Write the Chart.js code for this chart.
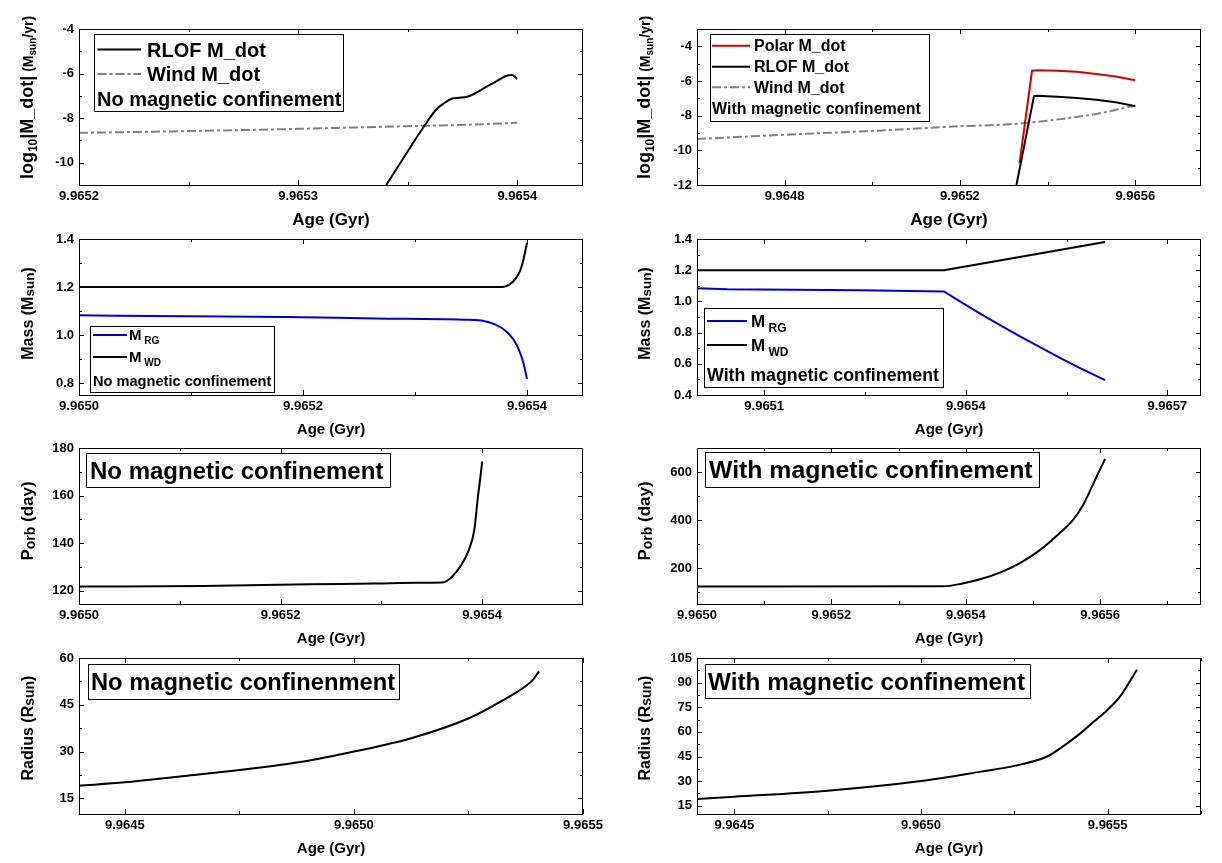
<!DOCTYPE html>
<html>
<head>
<meta charset="utf-8">
<script src="https://cdn.jsdelivr.net/npm/chart.js@4.4.1/dist/chart.umd.min.js"></script>
<style>
  html, body { margin: 0; padding: 0; background: #fff; }
  #page { position: relative; width: 1222px; height: 863px; overflow: hidden; }
  .panel { position: absolute; width: 611px; height: 234px; }
</style>
</head>
<body>
<div id="page"></div>
<script>
// ---- data (age in Gyr) ----

// row 1: mass transfer rates, log10 |M_dot| (Msun/yr)
const ageRlofNoMag = [9.9653402, 9.9653496, 9.9653591, 9.9653630, 9.9653669, 9.9653701, 9.9653732, 9.9653772, 9.9653811, 9.9653858, 9.9653906, 9.9653945, 9.9653976, 9.9654];
const logRlofNoMag = [-11.0, -9.55, -8.13, -7.61, -7.31, -7.13, -7.09, -7.04, -6.87, -6.60, -6.34, -6.12, -6.06, -6.24];
const ageWindNoMag = [9.9652, 9.9652504, 9.9653005, 9.9653496, 9.9653764, 9.9654];
const logWindNoMag = [-8.66, -8.58, -8.48, -8.36, -8.30, -8.21];

const agePolarMag = [9.965336, 9.9653644, 9.9653778, 9.9654222, 9.9654667, 9.9655111, 9.9655556, 9.9656];
const logPolarMag = [-10.74, -5.41, -5.38, -5.41, -5.47, -5.59, -5.74, -5.96];
const ageRlofMag = [9.9653289, 9.9653689, 9.9653778, 9.9654222, 9.9654667, 9.9655111, 9.9655556, 9.9656];
const logRlofMag = [-12.0, -6.87, -6.85, -6.91, -6.98, -7.08, -7.22, -7.45];
const ageWindMag = [9.9646, 9.9648, 9.9650222, 9.9652, 9.9652889, 9.9653422, 9.9654222, 9.9655111, 9.9656];
const logWindMag = [-9.35, -9.10, -8.85, -8.61, -8.53, -8.44, -8.22, -7.90, -7.41];

// row 2: masses (Msun)
const ageRgNoMag = [9.965, 9.965098, 9.965184, 9.965264, 9.9653433, 9.9653592, 9.965372, 9.9653815, 9.9653879, 9.9653927, 9.9653968, 9.9654];
const massRgNoMag = [1.082, 1.078, 1.075, 1.069, 1.064, 1.060, 1.043, 1.015, 0.981, 0.939, 0.883, 0.817];
const ageWdNoMag = [9.965, 9.9653783, 9.9653847, 9.9653895, 9.9653936, 9.9653968, 9.9654];
const massWdNoMag = [1.2, 1.2, 1.211, 1.233, 1.265, 1.314, 1.383];

const ageRgMag = [9.965, 9.9650453, 9.9652426, 9.9653675, 9.9653936, 9.9654226, 9.9654516, 9.9654806, 9.9655097, 9.9655387, 9.9655677, 9.9656072];
const massRgMag = [1.085, 1.078, 1.072, 1.064, 0.994, 0.919, 0.847, 0.776, 0.708, 0.641, 0.577, 0.495];
const ageWdMag = [9.965, 9.9653675, 9.9654865, 9.9656072];
const massWdMag = [1.2, 1.2, 1.29, 1.381];

// row 3: orbital period (day)
const agePorbNoMag = [9.965, 9.9651232, 9.9652294, 9.9652931, 9.9653356, 9.9653604, 9.9653674, 9.9653745, 9.9653816, 9.9653869, 9.9653922, 9.9653958, 9.9653979, 9.9654];
const porbNoMag = [121.8, 122.1, 122.8, 123.1, 123.4, 123.5, 124.9, 128.1, 132.6, 137.3, 145.7, 159.7, 166.7, 174.4];
const agePorbMag = [9.965, 9.9653675, 9.9653936, 9.9654226, 9.9654516, 9.9654806, 9.9655097, 9.9655387, 9.965559, 9.9655735, 9.965588, 9.9655996, 9.9656072];
const porbMag = [122.5, 123.6, 134.7, 154.2, 182.0, 220.8, 273.6, 343.0, 398.6, 457.0, 540.0, 609.7, 654.0];

// row 4: radius (Rsun)
const ageRadNoMag = [9.9644, 9.9645, 9.964616, 9.96475, 9.96489, 9.965, 9.965125, 9.965251, 9.965321, 9.965376, 9.965392, 9.965404];
const radNoMag = [19.07, 20.14, 21.96, 24.1, 26.8, 30.0, 34.3, 40.7, 46.1, 51.1, 53.25, 55.7];
const ageRadMag = [9.9644, 9.9645, 9.9647497, 9.9650005, 9.9651604, 9.9652503, 9.965338, 9.9653798, 9.9654216, 9.9654634, 9.9655, 9.9655366, 9.9655784];
const radMag = [19.1, 20.5, 24.2, 30.1, 35.8, 39.3, 45.0, 51.1, 58.2, 66.3, 73.5, 82.6, 97.9];

// ---- tick values ----
const x1Major = [9.9652, 9.9653, 9.9654], x1Minor = [9.96525, 9.96535];
const y1Major = [-4, -6, -8, -10], y1Minor = [-5, -7, -9, -11];
const x2Major = [9.9648, 9.9652, 9.9656], x2Minor = [9.9646, 9.965, 9.9654];
const y2Major = [-4, -6, -8, -10, -12], y2Minor = [-3, -5, -7, -9, -11];
const x3Major = [9.965, 9.9652, 9.9654], x3Minor = [9.9651, 9.9653];
const y3Major = [0.8, 1.0, 1.2, 1.4], y3Minor = [0.9, 1.1, 1.3];
const x4Major = [9.9651, 9.9654, 9.9657], x4Minor = [9.96525, 9.96555];
const y4Major = [0.4, 0.6, 0.8, 1.0, 1.2, 1.4], y4Minor = [0.5, 0.7, 0.9, 1.1, 1.3];
const x5Major = [9.965, 9.9652, 9.9654], x5Minor = [9.9651, 9.9653];
const y5Major = [120, 140, 160, 180], y5Minor = [130, 150, 170];
const x6Major = [9.965, 9.9652, 9.9654, 9.9656], x6Minor = [9.9651, 9.9653, 9.9655, 9.9657];
const y6Major = [200, 400, 600], y6Minor = [100, 300, 500, 700];
const x7Major = [9.9645, 9.965, 9.9655], x7Minor = [9.96475, 9.96525];
const y7Major = [15, 30, 45, 60], y7Minor = [22.5, 37.5, 52.5];
const x8Major = [9.9645, 9.965, 9.9655], x8Minor = [9.96475, 9.96525, 9.96575];
const y8Major = [15, 30, 45, 60, 75, 90, 105], y8Minor = [22.5, 37.5, 52.5, 67.5, 82.5, 97.5];

// ---- look ----
const FONT = '"Liberation Sans", Arial, Helvetica, sans-serif';
const BLACK = '#000000', GRAY = '#808080', BLUE = '#0000cc', RED = '#d40000';
const WIND_DASH = [9, 3, 3, 3];

const COL_LEFT = [0, 611];
const ROW_TOP = [0, 210, 419, 629];
const AREA_LEFT = [79, 86];
const AREA_RIGHT = [583, 590];
const TITLE_X = [27, 33];

function series(ages, vals) {
  return ages.map((a, i) => ({ x: a, y: vals[i] }));
}

// smooth: monotone curve; otherwise straight segments (keeps the sharp kinks)
function lineSet(ages, vals, color, dash, smooth = true) {
  const set = {
    data: series(ages, vals),
    borderColor: color,
    borderWidth: 2,
    borderDash: dash || [],
    pointRadius: 0,
    showLine: true,
    fill: false,
    tension: 0
  };
  if (smooth) set.cubicInterpolationMode = 'monotone';
  return set;
}

const fmt1 = v => v.toFixed(1);
const fmtInt = v => String(v);

const massTitle = [['Mass (M', 16, 0], ['sun', 13.5, 1.5], [')', 16, 0]];
const porbTitle = [['P', 17, 0], ['orb', 14, 2], [' (day)', 17, 0]];
const radTitle = [['Radius (R', 16, 0], ['sun', 14, 1.5], [')', 16, 0]];
const mdotTitle = [['log', 18, 0], ['10', 12, 4], ['|M_dot|', 18, 0], [' (M', 14, 0], ['sun', 10, 3], ['/yr)', 14, 0]];

const panels = [
  { col: 0, row: 0, xMin: 9.9652, xMax: 9.96543, yMin: -11, yMax: -4,
    xMajor: x1Major, xMinor: x1Minor, yMajor: y1Major, yMinor: y1Minor, yFmt: fmtInt,
    sets: [lineSet(ageRlofNoMag, logRlofNoMag, BLACK), lineSet(ageWindNoMag, logWindNoMag, GRAY, WIND_DASH)],
    yTitle: mdotTitle, yTitleY: 97.5, xTitleSize: 17,
    legend: { box: [94, 34, 343, 111], items: [
      { y: 49.5, line: { x1: 97.5, x2: 141, color: BLACK }, tx: 147, parts: [['RLOF M_dot', 20, 0]] },
      { y: 74, line: { x1: 97.5, x2: 141, color: GRAY, dash: WIND_DASH }, tx: 147, parts: [['Wind M_dot', 20, 0]] },
      { y: 99, tx: 97, parts: [['No magnetic confinement', 20, 0]] }
    ] } },
  { col: 1, row: 0, xMin: 9.9646, xMax: 9.96575, yMin: -12, yMax: -3,
    xMajor: x2Major, xMinor: x2Minor, yMajor: y2Major, yMinor: y2Minor, yFmt: fmtInt,
    sets: [lineSet(ageRlofMag, logRlofMag, BLACK, null, false), lineSet(agePolarMag, logPolarMag, RED, null, false),
           lineSet(ageWindMag, logWindMag, GRAY, WIND_DASH)],
    yTitle: mdotTitle, yTitleY: 97.5, xTitleSize: 17,
    legend: { box: [710, 34, 929, 121], items: [
      { y: 45.7, line: { x1: 712, x2: 750, color: RED }, tx: 754, parts: [['Polar M_dot', 16, 0]] },
      { y: 66.7, line: { x1: 712, x2: 750, color: BLACK }, tx: 754, parts: [['RLOF M_dot', 16, 0]] },
      { y: 87.3, line: { x1: 712, x2: 750, color: GRAY, dash: WIND_DASH }, tx: 754, parts: [['Wind M_dot', 16, 0]] },
      { y: 108.3, tx: 712, parts: [['With magnetic confinement', 16, 0]] }
    ] } },
  { col: 0, row: 1, xMin: 9.965, xMax: 9.96545, yMin: 0.75, yMax: 1.4,
    xMajor: x3Major, xMinor: x3Minor, yMajor: y3Major, yMinor: y3Minor, yFmt: fmt1,
    sets: [lineSet(ageWdNoMag, massWdNoMag, BLACK), lineSet(ageRgNoMag, massRgNoMag, BLUE)],
    yTitle: massTitle, yTitleY: 103.5, xTitleSize: 15,
    legend: { box: [90, 326, 274, 392], items: [
      { y: 335, line: { x1: 93, x2: 127, color: BLUE }, tx: 129, parts: [['M', 15, 0], [' RG', 10, 4]] },
      { y: 357, line: { x1: 93, x2: 127, color: BLACK }, tx: 129, parts: [['M', 15, 0], [' WD', 10, 4]] },
      { y: 381, tx: 93, parts: [['No magnetic confinement', 14.6, 0]] }
    ] } },
  { col: 1, row: 1, xMin: 9.965, xMax: 9.96575, yMin: 0.4, yMax: 1.4,
    xMajor: x4Major, xMinor: x4Minor, yMajor: y4Major, yMinor: y4Minor, yFmt: fmt1,
    sets: [lineSet(ageWdMag, massWdMag, BLACK, null, false), lineSet(ageRgMag, massRgMag, BLUE, null, false)],
    yTitle: massTitle, yTitleY: 103.5, xTitleSize: 15,
    legend: { box: [704, 308, 943, 387], items: [
      { y: 321, line: { x1: 707, x2: 747, color: BLUE }, tx: 751, parts: [['M', 17, 0], [' RG', 12, 5]] },
      { y: 345, line: { x1: 707, x2: 747, color: BLACK }, tx: 751, parts: [['M', 17, 0], [' WD', 12, 5]] },
      { y: 375, tx: 707, parts: [['With magnetic confinement', 17.8, 0]] }
    ] } },
  { col: 0, row: 2, xMin: 9.965, xMax: 9.9655, yMin: 114.5, yMax: 180,
    xMajor: x5Major, xMinor: x5Minor, yMajor: y5Major, yMinor: y5Minor, yFmt: fmtInt,
    sets: [lineSet(agePorbNoMag, porbNoMag, BLACK)],
    yTitle: porbTitle, yTitleY: 102, xTitleSize: 15,
    legend: { box: [86, 453, 390, 487], items: [
      { y: 470, tx: 90, parts: [['No magnetic confinement', 24, 0]] }
    ] } },
  { col: 1, row: 2, xMin: 9.965, xMax: 9.96575, yMin: 50, yMax: 700,
    xMajor: x6Major, xMinor: x6Minor, yMajor: y6Major, yMinor: y6Minor, yFmt: fmtInt,
    sets: [lineSet(agePorbMag, porbMag, BLACK)],
    yTitle: porbTitle, yTitleY: 102, xTitleSize: 15,
    legend: { box: [705, 452, 1039, 487], items: [
      { y: 469.5, tx: 709, parts: [['With magnetic confinement', 24.8, 0]] }
    ] } },
  { col: 0, row: 3, xMin: 9.9644, xMax: 9.9655, yMin: 10, yMax: 60,
    xMajor: x7Major, xMinor: x7Minor, yMajor: y7Major, yMinor: y7Minor, yFmt: fmtInt,
    sets: [lineSet(ageRadNoMag, radNoMag, BLACK)],
    yTitle: radTitle, yTitleY: 99, xTitleSize: 15,
    legend: { box: [87.5, 664, 398, 699], items: [
      { y: 681.5, tx: 91, parts: [['No magnetic confinenment', 23.7, 0]] }
    ] } },
  { col: 1, row: 3, xMin: 9.9644, xMax: 9.96575, yMin: 10, yMax: 105,
    xMajor: x8Major, xMinor: x8Minor, yMajor: y8Major, yMinor: y8Minor, yFmt: fmtInt,
    sets: [lineSet(ageRadMag, radMag, BLACK)],
    yTitle: radTitle, yTitleY: 99, xTitleSize: 15,
    legend: { box: [705, 664, 1030, 698], items: [
      { y: 681, tx: 708, parts: [['With magnetic confinement', 24.3, 0]] }
    ] } }
];

// draws a run of text pieces of mixed size; y is the baseline
function drawParts(ctx, parts, x, y, align) {
  let w = 0;
  parts.forEach(p => { ctx.font = 'bold ' + p[1] + 'px ' + FONT; w += ctx.measureText(p[0]).width; });
  let cx = align === 'center' ? x - w / 2 : x;
  ctx.textAlign = 'left';
  ctx.textBaseline = 'alphabetic';
  parts.forEach(p => {
    ctx.font = 'bold ' + p[1] + 'px ' + FONT;
    ctx.fillText(p[0], cx, y + (p[2] || 0));
    cx += ctx.measureText(p[0]).width;
  });
}

// frame, inward ticks on four sides, axis titles and the boxed legends
function decor(p) {
  const ox = COL_LEFT[p.col], oy = ROW_TOP[p.row];
  return {
    id: 'decor',
    afterDraw(chart) {
      const { ctx, chartArea: a, scales: { x, y } } = chart;
      ctx.save();
      ctx.strokeStyle = BLACK;
      ctx.lineWidth = 1;
      ctx.beginPath();
      const vt = (v, len) => {
        const px = Math.round(x.getPixelForValue(v)) + 0.5;
        ctx.moveTo(px, a.bottom); ctx.lineTo(px, a.bottom - len);
        ctx.moveTo(px, a.top); ctx.lineTo(px, a.top + len);
      };
      const ht = (v, len) => {
        const py = Math.round(y.getPixelForValue(v)) + 0.5;
        ctx.moveTo(a.left, py); ctx.lineTo(a.left + len, py);
        ctx.moveTo(a.right, py); ctx.lineTo(a.right - len, py);
      };
      p.xMajor.forEach(v => vt(v, 5));
      p.xMinor.forEach(v => vt(v, 3));
      p.yMajor.forEach(v => ht(v, 5));
      p.yMinor.forEach(v => ht(v, 3));
      ctx.stroke();
      ctx.strokeRect(a.left + 0.5, a.top + 0.5, a.right - a.left - 1, a.bottom - a.top);

      ctx.fillStyle = BLACK;
      // x title
      drawParts(ctx, [['Age (Gyr)', p.xTitleSize, 0]], (a.left + a.right) / 2, 219.5 + 0.3 * p.xTitleSize, 'center');
      // y title
      ctx.save();
      ctx.translate(TITLE_X[p.col], p.yTitleY);
      ctx.rotate(-Math.PI / 2);
      drawParts(ctx, p.yTitle, 0, 0.36 * p.yTitle[0][1], 'center');
      ctx.restore();

      // legend box
      const L = p.legend;
      const b = L.box;
      ctx.fillStyle = '#ffffff';
      ctx.fillRect(b[0] - ox, b[1] - oy, b[2] - b[0], b[3] - b[1]);
      ctx.strokeStyle = BLACK;
      ctx.lineWidth = 1;
      ctx.strokeRect(Math.round(b[0] - ox) + 0.5, Math.round(b[1] - oy) + 0.5, Math.round(b[2] - b[0]), Math.round(b[3] - b[1]));
      L.items.forEach(it => {
        if (it.line) {
          ctx.beginPath();
          ctx.setLineDash(it.line.dash || []);
          ctx.strokeStyle = it.line.color;
          ctx.lineWidth = 2;
          ctx.moveTo(it.line.x1 - ox, it.y - oy);
          ctx.lineTo(it.line.x2 - ox, it.y - oy);
          ctx.stroke();
          ctx.setLineDash([]);
        }
        ctx.fillStyle = BLACK;
        drawParts(ctx, it.parts, it.tx - ox, it.y - oy + 0.36 * it.parts[0][1], 'left');
      });
      ctx.restore();
    }
  };
}

const page = document.getElementById('page');
const tickFont = { family: FONT, size: 13, weight: 'bold' };

panels.forEach(p => {
  const div = document.createElement('div');
  div.className = 'panel';
  div.style.left = COL_LEFT[p.col] + 'px';
  div.style.top = ROW_TOP[p.row] + 'px';
  const cv = document.createElement('canvas');
  div.appendChild(cv);
  page.appendChild(div);

  new Chart(cv, {
    type: 'scatter',
    data: { datasets: p.sets },
    options: {
      animation: false,
      responsive: true,
      maintainAspectRatio: false,
      layout: { padding: { top: 29, left: 0, right: 611 - AREA_RIGHT[p.col], bottom: 0 } },
      plugins: { legend: { display: false }, tooltip: { enabled: false } },
      scales: {
        x: {
          type: 'linear', min: p.xMin, max: p.xMax,
          grid: { display: false, drawTicks: false },
          border: { display: false },
          ticks: { padding: 4, maxRotation: 0, minRotation: 0, autoSkip: false, color: BLACK, font: tickFont,
                   callback: v => v.toFixed(4) },
          afterBuildTicks: s => { s.ticks = p.xMajor.map(v => ({ value: v })); },
          afterFit: s => { s.height = 49; }
        },
        y: {
          type: 'linear', min: p.yMin, max: p.yMax,
          grid: { display: false, drawTicks: false },
          border: { display: false },
          ticks: { padding: 5, autoSkip: false, color: BLACK, font: tickFont, callback: v => p.yFmt(v) },
          afterBuildTicks: s => { s.ticks = p.yMajor.map(v => ({ value: v })); },
          afterFit: s => { s.width = AREA_LEFT[p.col]; }
        }
      }
    },
    plugins: [decor(p)]
  });
});
</script>
</body>
</html>
